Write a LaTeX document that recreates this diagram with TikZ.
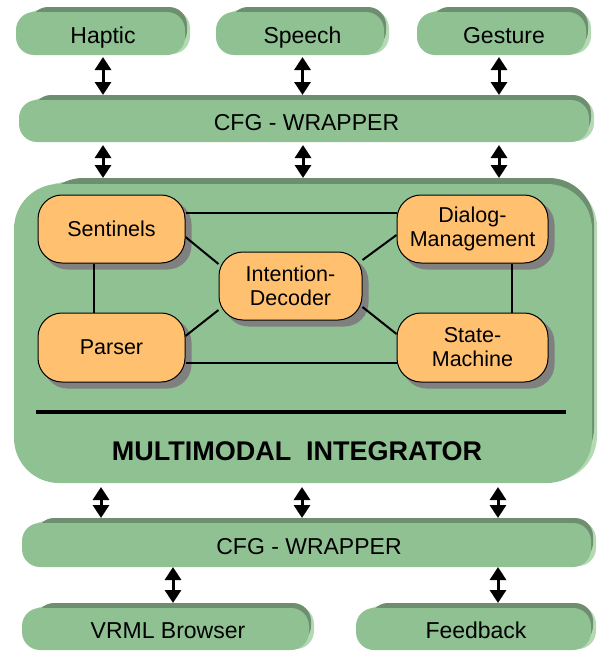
\documentclass[tikz,border=0pt]{standalone}
\usepackage{fontspec}
\setmainfont{Liberation Sans}
\usetikzlibrary{calc,arrows.meta}
\pgfdeclarelayer{bg}\pgfdeclarelayer{shad}\pgfdeclarelayer{lines}
\pgfsetlayers{bg,shad,lines,main}
\definecolor{gmid}{HTML}{8FC193}
\definecolor{gdark}{HTML}{6E8F6F}
\definecolor{glight}{HTML}{B4DAB3}
\definecolor{org}{HTML}{FFC070}
\definecolor{shd}{HTML}{808080}
\tikzset{
  gbarnode/.style={inner sep=0pt, outer sep=0pt, font=\fontsize{23}{27}\selectfont,
    text height=24.5pt, text depth=0pt},
  inode/.style={fill=org, draw=black, line width=1pt, rounded corners=24pt, align=center,
    inner sep=0pt, font=\fontsize{21.5}{24}\selectfont},
  dbl/.style={line width=3pt, >={Triangle[width=16pt,length=13pt]}, <->},
  conn/.style={line width=2pt},
  barshape/.style={rounded corners=18pt},
}
\newcommand\gbar[6]{%
  \node[gbarnode, minimum width={(#4-#2)*1pt}, minimum height={(#5-#3)*1pt}] (#1)
    at ({(#2+#4)/2},{(#3+#5)/2}) {#6};
  \begin{pgfonlayer}{bg}
    \fill[glight, barshape] ($(#1.south west)+(6pt,1pt)$) rectangle ($(#1.north east)+(0pt,-3pt)$);
    \fill[gdark, barshape] ($(#1.south west)+(14pt,6pt)$) rectangle ($(#1.north east)+(-3pt,0pt)$);
    \fill[gmid, barshape] (#1.south west) rectangle ($(#1.north east)+(-5pt,-5pt)$);
  \end{pgfonlayer}}
\begin{document}
\begin{tikzpicture}[x=1pt,y=-1pt]
\useasboundingbox (0,0) rectangle (603,653);
% bars
\gbar{haptic}{16}{7}{190}{55}{Haptic}
\gbar{speech}{216}{7}{389}{55}{Speech}
\gbar{gesture}{417}{7}{591}{55}{Gesture}
\gbar{cfga}{19}{95}{594}{142}{CFG - WRAPPER}
\gbar{cfgb}{22}{518}{596}{567}{CFG - WRAPPER}
\gbar{vrml}{22}{603}{314}{650}{VRML Browser}
\gbar{feedback}{356}{603}{596}{650}{Feedback}
% integrator
\node[inner sep=0pt, outer sep=0pt, minimum width=583pt, minimum height=305pt] (mmi) at (305.5,330.5) {};
\begin{pgfonlayer}{bg}
  \fill[glight, rounded corners=45pt] ($(mmi.south west)+(8pt,2pt)$) rectangle ($(mmi.north east)+(0pt,-4pt)$);
  \fill[gdark, rounded corners=45pt] ($(mmi.south west)+(24pt,10pt)$) rectangle ($(mmi.north east)+(-3pt,0pt)$);
  \fill[gmid, rounded corners=45pt] (mmi.south west) rectangle ($(mmi.north east)+(-5pt,-6pt)$);
\end{pgfonlayer}
% inner nodes
\node[inode, minimum width=147pt, minimum height=68pt] (sen) at (111.5,229) {Sentinels};
\node[inode, minimum width=147pt, minimum height=69pt] (par) at (111.5,347.5) {Parser};
\node[inode, minimum width=143pt, minimum height=68pt] (ide) at (290.5,286) {Intention-\\Decoder};
\node[inode, minimum width=151pt, minimum height=68pt] (dm) at (472.5,229) {Dialog-\\Management};
\node[inode, minimum width=151pt, minimum height=69pt] (sm) at (472.5,347.5) {State-\\Machine};
\begin{pgfonlayer}{shad}
  \foreach \n in {sen,par,ide,dm,sm}
    \fill[shd, rounded corners=24pt] ($(\n.south west)+(6pt,-6pt)$) rectangle ($(\n.north east)+(6pt,-6pt)$);
\end{pgfonlayer}
\begin{pgfonlayer}{lines}
  \draw[conn] (sen.east |- 0,213) -- (dm.west |- 0,213);
  \draw[conn] (par.east |- 0,363) -- (sm.west |- 0,363);
  \draw[conn] (sen.south -| 94,0) -- (par.north -| 94,0);
  \draw[conn] (dm.south -| 512,0) -- (sm.north -| 512,0);
  \draw[conn] (sen.east |- 0,237) -- (ide.west |- 0,264);
  \draw[conn] (par.east |- 0,336) -- (ide.west |- 0,310);
  \draw[conn] (ide.east |- 0,260) -- (dm.west |- 0,235);
  \draw[conn] (ide.east |- 0,307) -- (sm.west |- 0,334);
\end{pgfonlayer}
\coordinate (rulel) at (36,412);
\coordinate (ruler) at (566,412);
\draw[line width=4.5pt] (rulel) -- (ruler);
\node[font=\bfseries\fontsize{27}{32}\selectfont] (title) at (297,451) {MULTIMODAL\hspace{0.55em}INTEGRATOR};
% arrows
\draw[dbl] ($(haptic.south)+(0,-2pt)$) -- (haptic.south |- cfga.north);
\draw[dbl] ($(speech.south)+(0,-2pt)$) -- (speech.south |- cfga.north);
\draw[dbl] ($(gesture.south -| 499,0)+(0,-2pt)$) -- (cfga.north -| 499,0);
\draw[dbl] ($(cfga.south -| 103,0)+(0,-3pt)$) -- (mmi.north -| 103,0);
\draw[dbl] ($(cfga.south -| 303,0)+(0,-3pt)$) -- (mmi.north -| 303,0);
\draw[dbl] ($(cfga.south -| 499,0)+(0,-3pt)$) -- (mmi.north -| 499,0);
\draw[dbl] ($(mmi.south -| 101,0)+(0,-4pt)$) -- (cfgb.north -| 101,0);
\draw[dbl] ($(mmi.south -| 302,0)+(0,-4pt)$) -- (cfgb.north -| 302,0);
\draw[dbl] ($(mmi.south -| 498,0)+(0,-4pt)$) -- (cfgb.north -| 498,0);
\draw[dbl] (cfgb.south -| 173,0) -- (vrml.north -| 173,0);
\draw[dbl] (cfgb.south -| 498,0) -- (feedback.north -| 498,0);
\end{tikzpicture}
\end{document}
